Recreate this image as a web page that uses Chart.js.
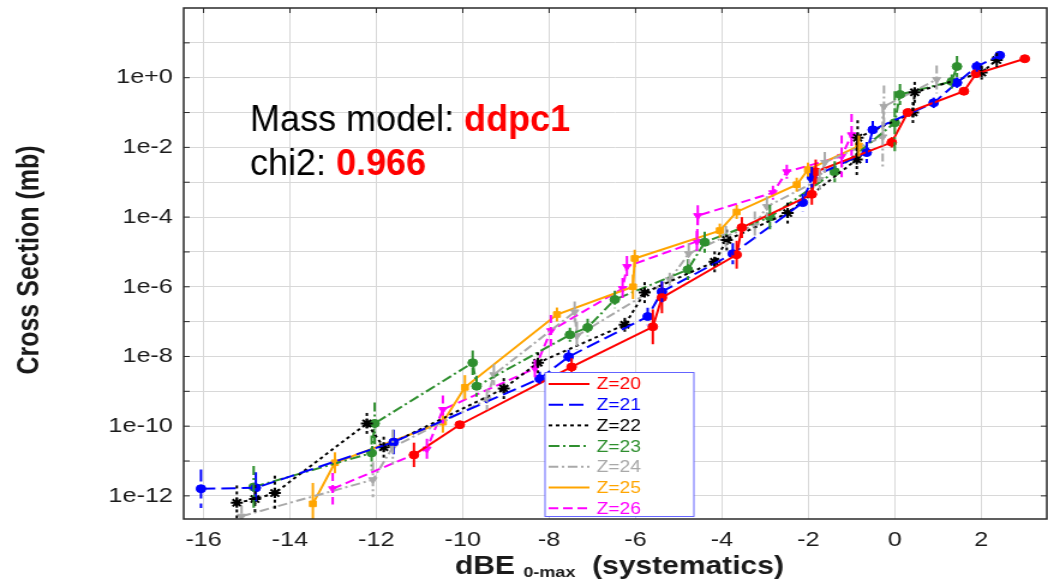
<!DOCTYPE html>
<html>
<head>
<meta charset="utf-8">
<script src="https://cdn.jsdelivr.net/npm/chart.js@4.4.1/dist/chart.umd.min.js"></script>
<style>
html, body { margin: 0; padding: 0; background: #fff; overflow: hidden; }
/* the source picture is a plot stretched sideways, so the canvas is too */
#chart { display: block; transform: scaleX(1.2005); transform-origin: 0 0; }
</style>
</head>
<body>
<canvas id="chart" width="873" height="581"></canvas>
<script>
const STRETCH = 1048 / 873;

const xTicks = [-16, -14, -12, -10, -8, -6, -4, -2, 0, 2];
const yDecades = [-12, -11, -10, -9, -8, -7, -6, -5, -4, -3, -2, -1, 0, 1];
const seriesNames = ['Z=20', 'Z=21', 'Z=22', 'Z=23', 'Z=24', 'Z=25', 'Z=26'];

// dBE (x), cross section in mb (y), error half-width in decades
const z20X = [-11.13, -10.07, -7.48, -5.60, -5.39, -3.66, -3.54, -1.92, -1.83, -0.07, 0.30, 1.60, 1.88, 3.01];
const z20Y = [1.5e-11, 1.1e-10, 5.0e-9, 7.1e-8, 4.9e-7, 8.3e-6, 5.0e-5, 4.5e-4, 2.0e-3, 1.4e-2, 1.0e-1, 0.41, 1.3, 3.5];
const z20Err = [0.35, 0.1, 0.25, 0.5, 0.45, 0.4, 0.3, 0.3, 0.35, 0.15, 0.1, 0.1, 0.1, 0.1];

const z21X = [-16.06, -14.79, -11.60, -8.22, -7.55, -5.72, -5.39, -3.75, -2.13, -1.92, -0.65, -0.51, 0.90, 1.44, 1.90, 2.43];
const z21Y = [1.6e-12, 1.7e-12, 3.5e-11, 2.3e-9, 9.8e-9, 1.4e-7, 7.2e-7, 8.9e-6, 2.6e-4, 1.4e-3, 7.1e-3, 3.2e-2, 0.19, 0.72, 2.1, 4.4];
const z21Err = [0.55, 0.45, 0.35, 0.2, 0.2, 0.25, 0.3, 0.3, 0.25, 0.3, 0.3, 0.25, 0.15, 0.15, 0.15, 0.1];

const z22X = [-15.23, -14.81, -14.35, -12.22, -11.83, -9.05, -8.26, -6.25, -5.79, -4.17, -3.89, -2.48, -0.88, -0.86, 0.42, 0.46, 2.01, 2.36];
const z22Y = [6.3e-13, 8.1e-13, 1.2e-12, 1.2e-10, 2.5e-11, 1.2e-9, 6.6e-9, 8.1e-8, 6.8e-7, 5.2e-6, 2.2e-5, 1.3e-4, 4.5e-3, 1.9e-2, 0.10, 0.38, 1.4, 3.2];
const z22Err = [0.5, 0.4, 0.5, 0.3, 0.3, 0.3, 0.3, 0.2, 0.3, 0.3, 0.3, 0.3, 0.5, 0.5, 0.3, 0.3, 0.2, 0.2];

const z23X = [-14.84, -12.11, -12.04, -9.77, -9.68, -7.52, -7.11, -6.48, -4.79, -4.40, -2.89, -1.39, 0.00, 0.12, 1.32, 1.44];
const z23Y = [1.8e-12, 1.7e-11, 1.2e-10, 6.6e-9, 1.4e-9, 4.2e-8, 6.8e-8, 4.3e-7, 3.1e-6, 1.9e-5, 1.0e-4, 2.0e-3, 5.1e-2, 0.33, 0.78, 2.1];
const z23Err = [0.6, 0.5, 0.6, 0.35, 0.3, 0.2, 0.25, 0.25, 0.3, 0.3, 0.35, 0.3, 0.9, 0.3, 0.2, 0.3];

const z24X = [-15.12, -12.08, -11.62, -9.44, -9.28, -7.41, -7.36, -5.21, -4.77, -3.91, -3.24, -2.96, -1.74, -1.62, -0.28, -0.25, 0.97];
const z24Y = [2.6e-13, 2.9e-12, 2.5e-11, 5.8e-10, 3.0e-9, 1.9e-7, 3.9e-8, 1.6e-6, 8.9e-6, 2.8e-5, 5.8e-5, 2.0e-4, 1.2e-3, 3.7e-3, 2.0e-2, 0.15, 0.89];
const z24Err = [0.3, 0.5, 0.5, 0.3, 0.3, 0.3, 0.4, 0.2, 0.3, 0.3, 0.4, 0.3, 0.3, 0.3, 0.9, 0.6, 0.4];

const z25X = [-13.47, -12.96, -10.46, -9.95, -7.82, -6.06, -6.02, -4.05, -3.66, -2.27, -2.01, -0.83];
const z25Y = [5.9e-13, 8.9e-12, 1.3e-10, 1.3e-9, 1.6e-7, 1.0e-6, 6.5e-6, 4.1e-5, 1.4e-4, 8.5e-4, 2.3e-3, 1.1e-2];
const z25Err = [0.6, 0.3, 0.3, 0.35, 0.2, 0.35, 0.25, 0.2, 0.2, 0.2, 0.2, 0.3];

const z26X = [-13.01, -10.83, -10.46, -8.33, -7.96, -6.30, -6.20, -4.58, -4.56, -2.82, -2.50, -1.23, -1.00];
const z26Y = [1.6e-12, 2.2e-11, 3.0e-10, 4.5e-9, 5.5e-8, 8.9e-7, 3.8e-6, 2.0e-5, 1.1e-4, 5.0e-4, 2.0e-3, 5.5e-3, 2.3e-2];
const z26Err = [0.45, 0.3, 0.4, 0.25, 0.45, 0.3, 0.3, 0.3, 0.3, 0.2, 0.2, 0.6, 0.6];

const modelLabel = 'Mass model: ';
const modelName = 'ddpc1';
const chiLabel = 'chi2: ';
const chiValue = '0.966';

const allX = [z20X, z21X, z22X, z23X, z24X, z25X, z26X];
const allY = [z20Y, z21Y, z22Y, z23Y, z24Y, z25Y, z26Y];
const allErr = [z20Err, z21Err, z22Err, z23Err, z24Err, z25Err, z26Err];

const styles = [
    {color: '#ff0000', dash: [], point: 'circle', rot: 0},
    {color: '#0000ff', dash: [12, 5], point: 'circle', rot: 0},
    {color: '#000000', dash: [3, 3], point: 'star', rot: 0},
    {color: '#2f8f2f', dash: [9, 3, 2, 3], point: 'circle', rot: 0},
    {color: '#a9a9a9', dash: [8, 3, 2, 3], point: 'triangle', rot: 180},
    {color: '#ffa500', dash: [], point: 'rect', rot: 0},
    {color: '#ff00ff', dash: [8, 4], point: 'triangle', rot: 180}
];

const FONT = "'Liberation Sans', Arial, sans-serif";

const datasets = seriesNames.map((name, i) => ({
    label: name,
    data: allX[i].map((x, j) => ({x: x, y: allY[i][j]})),
    borderColor: styles[i].color,
    backgroundColor: styles[i].color,
    borderDash: styles[i].dash,
    borderWidth: 2,
    pointStyle: styles[i].point,
    pointRotation: styles[i].rot,
    pointRadius: styles[i].point == 'star' ? 5 : 4,
    pointBorderWidth: styles[i].point == 'star' ? 2 : 1,
    pointBackgroundColor: styles[i].color,
    pointBorderColor: styles[i].color,
    tension: 0,
    fill: false
}));

const errorBars = {
    id: 'errorBars',
    afterDatasetsDraw(chart) {
        const ctx = chart.ctx;
        const a = chart.chartArea;
        const yScale = chart.scales.y;
        ctx.save();
        ctx.beginPath();
        ctx.rect(a.left, a.top, a.right - a.left, a.bottom - a.top);
        ctx.clip();
        chart.data.datasets.forEach((ds, i) => {
            const meta = chart.getDatasetMeta(i);
            ctx.strokeStyle = ds.borderColor;
            ctx.lineWidth = 2;
            ctx.setLineDash(ds.borderDash);
            meta.data.forEach((pt, j) => {
                const v = allY[i][j];
                const e = allErr[i][j];
                const top = yScale.getPixelForValue(v * Math.pow(10, e));
                const bottom = yScale.getPixelForValue(v / Math.pow(10, e));
                ctx.beginPath();
                ctx.moveTo(pt.x, top);
                ctx.lineTo(pt.x, bottom);
                ctx.stroke();
            });
        });
        ctx.restore();
    }
};

const decorations = {
    id: 'decorations',
    afterDraw(chart) {
        const ctx = chart.ctx;
        const a = chart.chartArea;
        const xScale = chart.scales.x;
        const yScale = chart.scales.y;
        ctx.save();

        // frame with inward ticks
        ctx.strokeStyle = '#2a2a2a';
        ctx.lineWidth = 1.5;
        ctx.setLineDash([]);
        ctx.strokeRect(a.left, a.top, a.right - a.left, a.bottom - a.top);
        ctx.lineWidth = 1;
        ctx.beginPath();
        yDecades.forEach(e => {
            const py = yScale.getPixelForValue(Math.pow(10, e));
            ctx.moveTo(a.left, py); ctx.lineTo(a.left + 5, py);
            ctx.moveTo(a.right, py); ctx.lineTo(a.right - 5, py);
        });
        xTicks.forEach(t => {
            const px = xScale.getPixelForValue(t);
            ctx.moveTo(px, a.top); ctx.lineTo(px, a.top + 5);
        });
        ctx.stroke();

        // legend box
        const lx = 454, ly = 372.5, lw = 124, lh = 144;
        ctx.fillStyle = '#ffffff';
        ctx.fillRect(lx, ly, lw, lh);
        ctx.strokeStyle = '#6464ff';
        ctx.lineWidth = 1;
        ctx.strokeRect(lx, ly, lw, lh);
        ctx.font = '16px ' + FONT;
        ctx.textBaseline = 'middle';
        ctx.textAlign = 'left';
        seriesNames.forEach((name, i) => {
            const cy = 384 + i * 20.7;
            ctx.strokeStyle = styles[i].color;
            ctx.lineWidth = 2;
            ctx.setLineDash(styles[i].dash);
            ctx.beginPath();
            ctx.moveTo(457, cy); ctx.lineTo(491, cy);
            ctx.stroke();
            ctx.fillStyle = styles[i].color;
            ctx.fillText(name, 497, cy + 1);
        });
        ctx.setLineDash([]);

        // y axis title
        ctx.save();
        ctx.translate(25, 260);
        ctx.rotate(-Math.PI / 2);
        ctx.fillStyle = '#1a1a1a';
        ctx.font = 'bold 25px ' + FONT;
        ctx.textAlign = 'center';
        ctx.textBaseline = 'middle';
        ctx.fillText('Cross Section (mb)', 0, 0);
        ctx.restore();

        // x axis title with subscript
        const parts = [
            {t: 'dBE ', f: 'bold 25px ' + FONT, dy: 0},
            {t: '0-max', f: 'bold 15px ' + FONT, dy: 3},
            {t: '  (systematics)', f: 'bold 25px ' + FONT, dy: 0}
        ];
        let total = 0;
        parts.forEach(p => { ctx.font = p.f; p.w = ctx.measureText(p.t).width; total += p.w; });
        let cx = 516 - total / 2;
        ctx.fillStyle = '#1a1a1a';
        ctx.textBaseline = 'alphabetic';
        parts.forEach(p => {
            ctx.font = p.f;
            ctx.fillText(p.t, cx, 574 + p.dy);
            cx += p.w;
        });

        // annotation, not stretched
        ctx.scale(1 / STRETCH, 1);
        ctx.font = '36px ' + FONT;
        ctx.fillStyle = '#000000';
        ctx.fillText(modelLabel, 250, 131);
        let w = ctx.measureText(modelLabel).width;
        ctx.font = 'bold 36px ' + FONT;
        ctx.fillStyle = '#ff0000';
        ctx.fillText(modelName, 250 + w, 131);
        ctx.font = '36px ' + FONT;
        ctx.fillStyle = '#000000';
        ctx.fillText(chiLabel, 250, 175);
        w = ctx.measureText(chiLabel).width;
        ctx.font = 'bold 36px ' + FONT;
        ctx.fillStyle = '#ff0000';
        ctx.fillText(chiValue, 250 + w, 175);

        ctx.restore();
    }
};

new Chart(document.getElementById('chart'), {
    type: 'line',
    data: {datasets: datasets},
    options: {
        responsive: false,
        animation: false,
        layout: {autoPadding: false, padding: {top: 8, right: 1, left: 0, bottom: 0}},
        plugins: {legend: {display: false}, tooltip: {enabled: false}},
        scales: {
            x: {
                type: 'linear',
                min: -16.46,
                max: 3.52,
                bounds: 'data',
                afterBuildTicks: s => { s.ticks = xTicks.map(v => ({value: v})); },
                afterFit: s => { s.height = 62; s.paddingLeft = 0; s.paddingRight = 0; },
                grid: {color: '#d8d8d8', lineWidth: 1, drawTicks: false},
                border: {display: false},
                ticks: {
                    autoSkip: false,
                    maxRotation: 0,
                    padding: 9,
                    color: '#1a1a1a',
                    font: {family: FONT, size: 21},
                    callback: v => String(v)
                }
            },
            y: {
                type: 'logarithmic',
                min: Math.pow(10, -12.664),
                max: 100,
                bounds: 'data',
                afterBuildTicks: s => { s.ticks = yDecades.map(e => ({value: Math.pow(10, e)})); },
                afterFit: s => { s.width = 153; s.paddingTop = 0; s.paddingBottom = 0; },
                grid: {color: '#d8d8d8', lineWidth: 1, drawTicks: false, borderDash: [2, 2]},
                border: {display: false},
                ticks: {
                    autoSkip: false,
                    padding: 9,
                    color: '#1a1a1a',
                    font: {family: FONT, size: 21},
                    callback: v => {
                        const e = Math.round(Math.log10(v));
                        if (e % 2 !== 0) return '';
                        return e >= 0 ? '1e+' + e : '1e' + e;
                    }
                }
            }
        }
    },
    plugins: [errorBars, decorations]
});
</script>
</body>
</html>
